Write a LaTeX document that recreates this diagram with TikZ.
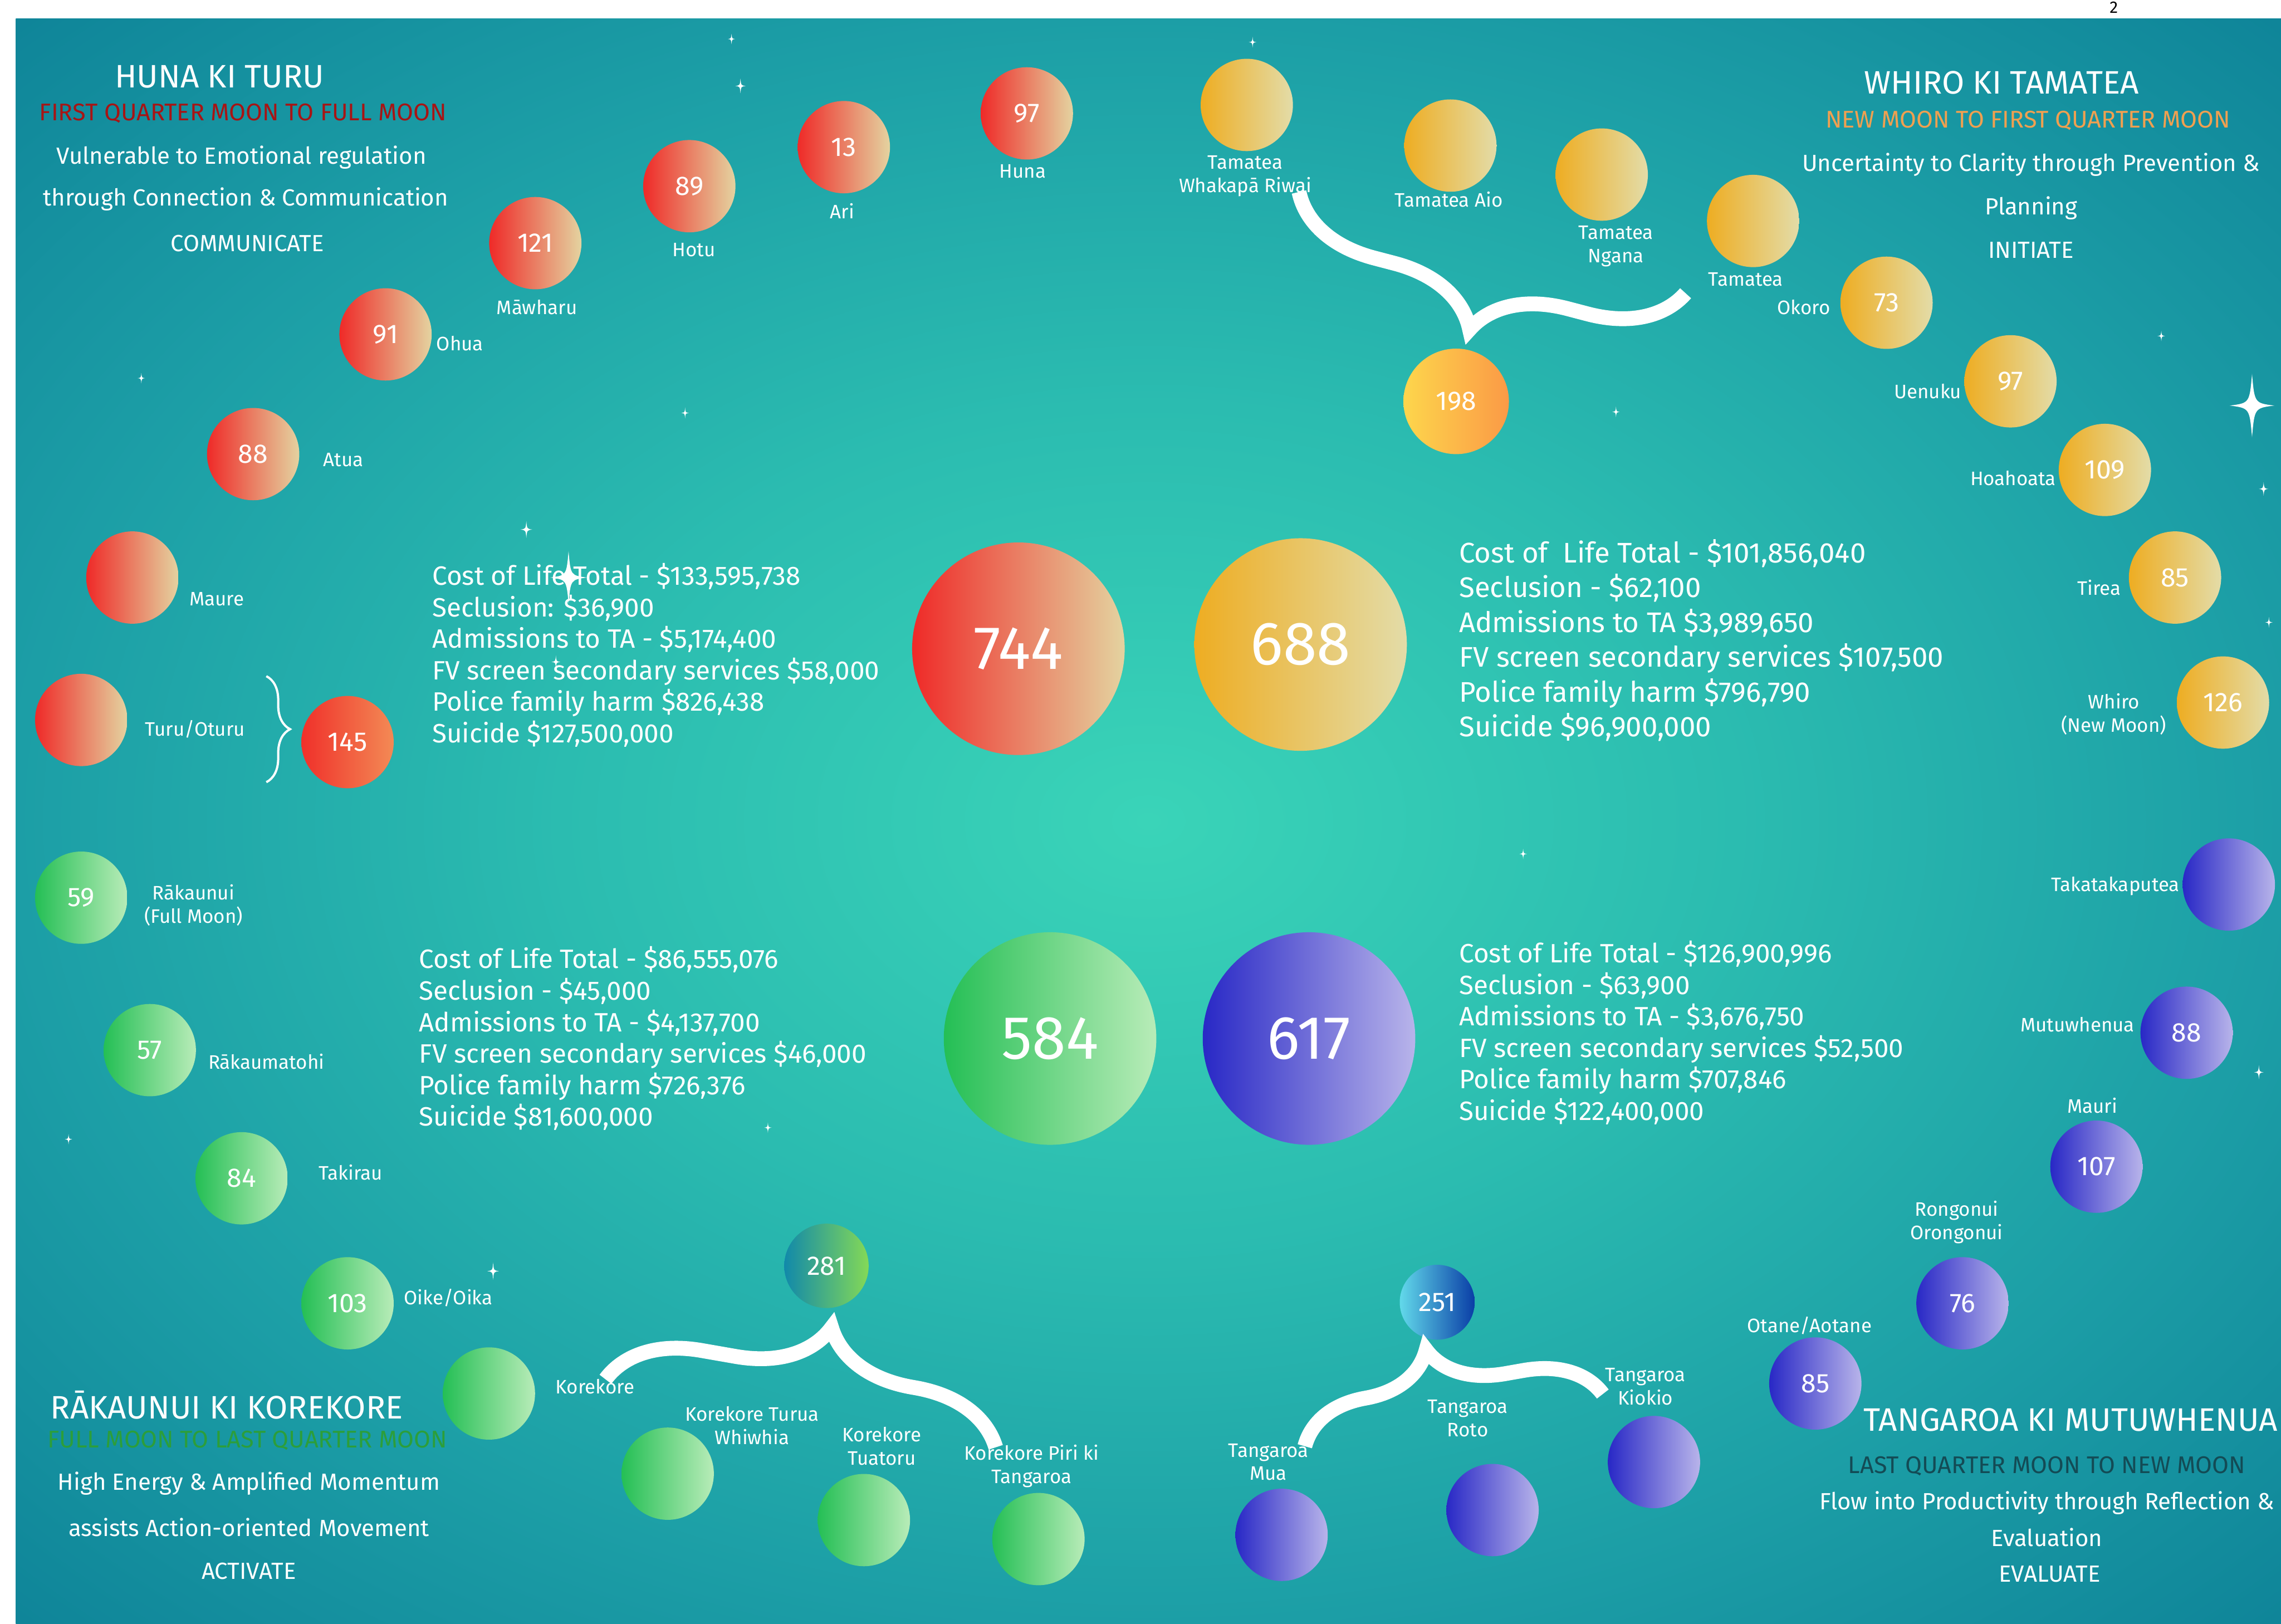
\documentclass[tikz,border=0pt]{standalone}
\usepackage{fontspec}
\setmainfont{Fira Sans}
\usetikzlibrary{decorations.pathreplacing}

\definecolor{glowC}{HTML}{3AD4B8}
\definecolor{glowM}{HTML}{2BBCB0}
\definecolor{glowE}{HTML}{1C9EA6}
\definecolor{glowF}{HTML}{0E8398}
\definecolor{redL}{HTML}{EF2A28}
\definecolor{redR}{HTML}{E4D3A0}
\definecolor{yelL}{HTML}{EEAD22}
\definecolor{yelR}{HTML}{E3DCA8}
\definecolor{grnL}{HTML}{24BF55}
\definecolor{grnR}{HTML}{B8ECB8}
\definecolor{bluL}{HTML}{2828C6}
\definecolor{bluR}{HTML}{B8B4EA}
\definecolor{sumRL}{HTML}{F0302A}
\definecolor{sumRR}{HTML}{F38A55}
\definecolor{sumYL}{HTML}{FDD64C}
\definecolor{sumYR}{HTML}{FB9A46}
\definecolor{sumGL}{HTML}{1189AA}
\definecolor{sumGR}{HTML}{84D957}
\definecolor{sumBL}{HTML}{62D9EA}
\definecolor{sumBR}{HTML}{0A3EA6}
\definecolor{huna}{HTML}{A81414}
\definecolor{whiro}{HTML}{F0A050}
\definecolor{rakau}{HTML}{2C9E3A}
\definecolor{tanga}{HTML}{134B55}

\pgfdeclareradialshading{lagoon}{\pgfpointorigin}{color(0bp)=(glowC); color(13bp)=(glowM); color(25bp)=(glowE); color(36bp)=(glowF); color(50bp)=(glowF)}

\begin{document}
\begin{tikzpicture}[
    moon/.style={circle,minimum size=1.75cm,inner sep=0pt,text=white,font=\fontsize{14.5}{16}\selectfont},
    redmoon/.style={moon,left color=redL,right color=redR},
    yelmoon/.style={moon,left color=yelL,right color=yelR},
    grnmoon/.style={moon,left color=grnL,right color=grnR},
    blumoon/.style={moon,left color=bluL,right color=bluR},
    bigmoon/.style={minimum size=4.03cm,font=\fontsize{33}{40}\selectfont},
    mlabel/.style={text=white,font=\fontsize{10.5}{12.5}\selectfont,align=center,inner sep=0pt},
    costs/.style={text=white,font=\fontsize{14.3}{17}\selectfont,align=left,anchor=west,inner sep=0pt},
    heading/.style={text=white,font=\fontsize{17.5}{20}\selectfont,inner sep=0pt},
    phase/.style={font=\fontsize{13}{15}\selectfont,inner sep=0pt},
    blurb/.style={text=white,font=\fontsize{12.6}{15}\selectfont,inner sep=0pt},
    linker/.style={white,line width=8pt,decorate},
    sparkle/.pic={\fill[white] (0,1) .. controls (0.08,0.08) .. (0.7,0) .. controls (0.08,-0.08) .. (0,-1) .. controls (-0.08,-0.08) .. (-0.7,0) .. controls (-0.08,0.08) .. (0,1) -- cycle;}]

% page and sky
\fill[white] (0,0) rectangle (43.25,30.79);
\useasboundingbox (0,0) rectangle (43.25,30.79);
\shade[shading=lagoon] (0.30,0) rectangle (43.25,30.44);
\node[font=\fontsize{9}{10}\selectfont] (pageno) at (40.08,30.65) {2};

% stars
\pic[scale=0.10] at (13.87,30.05) {sparkle};
\pic[scale=0.14] at (14.04,29.16) {sparkle};
\pic[scale=0.10] at (2.68,23.62) {sparkle};
\pic[scale=0.10] at (12.99,22.96) {sparkle};
\pic[scale=0.16] at (9.98,20.75) {sparkle};
\pic[scale=0.50] at (10.78,19.84) {sparkle};
\pic[scale=0.12] at (10.54,18.24) {sparkle};
\pic[scale=0.10] at (14.56,9.41) {sparkle};
\pic[scale=0.10] at (1.30,9.19) {sparkle};
\pic[scale=0.16] at (9.35,6.69) {sparkle};
\pic[scale=0.10] at (23.75,29.99) {sparkle};
\pic[scale=0.10] at (30.64,22.98) {sparkle};
\pic[scale=0.10] at (40.98,24.42) {sparkle};
\pic[scale=0.60] at (42.70,23.10) {sparkle};
\pic[scale=0.13] at (42.92,21.52) {sparkle};
\pic[scale=0.10] at (43.02,18.99) {sparkle};
\pic[scale=0.10] at (28.88,14.60) {sparkle};
\pic[scale=0.13] at (42.83,10.46) {sparkle};

% Huna ki Turu
\node[heading] (hunaH) at (4.16,29.33) {HUNA KI TURU};
\node[phase,text=huna] (hunaP) at (4.61,28.64) {FIRST QUARTER MOON TO FULL MOON};
\node[blurb] (hunaB1) at (4.58,27.81) {Vulnerable to Emotional regulation};
\node[blurb] (hunaB2) at (4.66,27.01) {through Connection \& Communication};
\node[blurb] (hunaB3) at (4.69,26.18) {COMMUNICATE};

\node[redmoon] (huna) at (19.47,28.64) {97};
\node[mlabel] (huna-t) at (19.39,27.54) {Huna};
\node[redmoon] (ari) at (16.00,28.00) {13};
\node[mlabel] (ari-t) at (15.97,26.79) {Ari};
\node[redmoon] (hotu) at (13.07,27.26) {89};
\node[mlabel] (hotu-t) at (13.16,26.05) {Hotu};
\node[redmoon] (mawharu) at (10.15,26.18) {121};
\node[mlabel] (mawharu-t) at (10.18,24.97) {Māwharu};
\node[redmoon] (ohua) at (7.31,24.45) {91};
\node[mlabel] (ohua-t) at (8.72,24.28) {Ohua};
\node[redmoon] (atua) at (4.80,22.18) {88};
\node[mlabel] (atua-t) at (6.51,22.07) {Atua};
\node[redmoon] (maure) at (2.51,19.84) {};
\node[mlabel] (maure-t) at (4.11,19.43) {Maure};
\node[redmoon] (turu) at (1.54,17.14) {};
\node[mlabel] (turu-t) at (3.70,16.97) {Turu/Oturu};
\node[moon,left color=sumRL,right color=sumRR] (turuSum) at (6.59,16.72) {145};
\coordinate (turuTop) at (5.05,17.97);
\coordinate (turuBot) at (5.05,15.96);
\draw[white,line width=1.2pt,decorate,decoration={brace,amplitude=0.45cm}] (turuTop) -- (turuBot);

\node[redmoon,bigmoon] (hunaAll) at (19.31,18.49) {744};
\node[costs] (hunaCost) at (8.19,18.37) {Cost of Life Total - \$133,595,738\\Seclusion: \$36,900\\Admissions to TA - \$5,174,400\\FV screen secondary services \$58,000\\Police family harm \$826,438\\Suicide \$127,500,000};

% Whiro ki Tamatea
\node[heading] (whiroH) at (37.95,29.22) {WHIRO KI TAMATEA};
\node[phase,text=whiro] (whiroP) at (38.45,28.50) {NEW MOON TO FIRST QUARTER MOON};
\node[blurb] (whiroB1) at (38.51,27.67) {Uncertainty to Clarity through Prevention \&};
\node[blurb] (whiroB2) at (38.51,26.85) {Planning};
\node[blurb] (whiroB3) at (38.51,26.05) {INITIATE};

\node[yelmoon] (whakapa) at (23.64,28.80) {};
\node[mlabel] (whakapa-t) at (23.61,27.45) {Tamatea\\Whakapā Riwai};
\node[yelmoon] (aio) at (27.50,28.03) {};
\node[mlabel] (aio-t) at (27.47,27.01) {Tamatea Aio};
\node[yelmoon] (ngana) at (30.37,27.48) {};
\node[mlabel] (ngana-t) at (30.64,26.12) {Tamatea\\Ngana};
\node[yelmoon] (tamatea) at (33.24,26.60) {};
\node[mlabel] (tamatea-t) at (33.10,25.49) {Tamatea};
\node[yelmoon] (okoro) at (35.77,25.05) {73};
\node[mlabel] (okoro-t) at (34.20,24.97) {Okoro};
\node[yelmoon] (uenuku) at (38.12,23.56) {97};
\node[mlabel] (uenuku-t) at (36.55,23.37) {Uenuku};
\node[yelmoon] (hoahoata) at (39.91,21.88) {109};
\node[mlabel] (hoahoata-t) at (38.17,21.72) {Hoahoata};
\node[yelmoon] (tirea) at (41.24,19.84) {85};
\node[mlabel] (tirea-t) at (39.80,19.65) {Tirea};
\node[yelmoon] (whiro) at (42.15,17.47) {126};
\node[mlabel] (whiro-t) at (40.08,17.25) {Whiro\\(New Moon)};
\node[moon,minimum size=2cm,left color=sumYL,right color=sumYR] (tamateaSum) at (27.61,23.18) {198};
\coordinate (yelL) at (24.63,27.15);
\coordinate (yelR) at (31.96,25.23);
\draw[linker,decoration={brace,amplitude=1.7cm,aspect=0.5}] (yelR) -- (yelL);

\node[yelmoon,bigmoon] (whiroAll) at (24.66,18.57) {688};
\node[costs,font=\fontsize{15.3}{18.8}\selectfont] (whiroCost) at (27.66,18.65) {Cost of \ Life Total - \$101,856,040\\Seclusion - \$62,100\\Admissions to TA \$3,989,650\\FV screen secondary services \$107,500\\Police family harm \$796,790\\Suicide \$96,900,000};

% Rakaunui ki Korekore
\node[heading] (rakauH) at (4.30,4.15) {RĀKAUNUI KI KOREKORE};
\node[phase,text=rakau] (rakauP) at (4.69,3.48) {FULL MOON TO LAST QUARTER MOON};
\node[blurb] (rakauB1) at (4.72,2.66) {High Energy \& Amplified Momentum};
\node[blurb] (rakauB2) at (4.72,1.83) {assists Action-oriented Movement};
\node[blurb] (rakauB3) at (4.72,1.00) {ACTIVATE};

\node[grnmoon] (rakaunui) at (1.54,13.77) {59};
\node[mlabel] (rakaunui-t) at (3.67,13.63) {Rākaunui\\(Full Moon)};
\node[grnmoon] (rakaumatohi) at (2.84,10.88) {57};
\node[mlabel] (rakaumatohi-t) at (5.05,10.66) {Rākaumatohi};
\node[grnmoon] (takirau) at (4.58,8.45) {84};
\node[mlabel] (takirau-t) at (6.65,8.56) {Takirau};
\node[grnmoon] (oike) at (6.59,6.08) {103};
\node[mlabel] (oike-t) at (8.50,6.19) {Oike/Oika};
\node[grnmoon] (korekore) at (9.27,4.37) {};
\node[mlabel] (korekore-t) at (11.28,4.50) {Korekore};
\node[grnmoon] (turua) at (12.66,2.85) {};
\node[mlabel] (turua-t) at (14.26,3.76) {Korekore Turua\\Whiwhia};
\node[grnmoon] (tuatoru) at (16.38,1.97) {};
\node[mlabel] (tuatoru-t) at (16.72,3.37) {Korekore\\Tuatoru};
\node[grnmoon] (piri) at (19.69,1.61) {};
\node[mlabel] (piri-t) at (19.56,2.99) {Korekore Piri ki\\Tangaroa};
\node[moon,minimum size=1.6cm,left color=sumGL,right color=sumGR] (korekoreSum) at (15.67,6.79) {281};
\coordinate (grnBL) at (11.48,4.64);
\coordinate (grnBR) at (18.88,3.35);
\draw[linker,decoration={brace,amplitude=1.7cm,aspect=0.54}] (grnBL) -- (grnBR);

\node[grnmoon,bigmoon] (rakauAll) at (19.91,11.10) {584};
\node[costs] (rakauCost) at (7.94,11.10) {Cost of Life Total - \$86,555,076\\Seclusion - \$45,000\\Admissions to TA - \$4,137,700\\FV screen secondary services \$46,000\\Police family harm \$726,376\\Suicide \$81,600,000};

% Tangaroa ki Mutuwhenua
\node[heading,anchor=west] (tangaH) at (35.33,3.87) {TANGAROA KI MUTUWHENUA};
\node[phase,text=tanga] (tangaP) at (38.81,2.99) {LAST QUARTER MOON TO NEW MOON};
\node[blurb] (tangaB1) at (38.81,2.30) {Flow into Productivity through Reflection \&};
\node[blurb] (tangaB2) at (38.81,1.64) {Evaluation};
\node[blurb] (tangaB3) at (38.86,0.95) {EVALUATE};

\node[blumoon] (takataka) at (42.26,14.02) {};
\node[mlabel] (takataka-t) at (40.11,13.99) {Takatakaputea};
\node[blumoon] (mutu) at (41.46,11.21) {88};
\node[mlabel] (mutu-t) at (39.39,11.37) {Mutuwhenua};
\node[blumoon] (mauri) at (39.75,8.67) {107};
\node[mlabel] (mauri-t) at (39.67,9.83) {Mauri};
\node[blumoon] (rongonui) at (37.21,6.08) {76};
\node[mlabel] (rongonui-t) at (37.10,7.62) {Rongonui\\Orongonui};
\node[blumoon] (otane) at (34.42,4.56) {85};
\node[mlabel] (otane-t) at (34.31,5.66) {Otane/Aotane};
\node[blumoon] (kiokio) at (31.36,3.07) {};
\node[mlabel] (kiokio-t) at (31.20,4.50) {Tangaroa\\Kiokio};
\node[blumoon] (roto) at (28.30,2.16) {};
\node[mlabel] (roto-t) at (27.83,3.90) {Tangaroa\\Roto};
\node[blumoon] (mua) at (24.30,1.69) {};
\node[mlabel] (mua-t) at (24.05,3.07) {Tangaroa\\Mua};
\node[moon,minimum size=1.42cm,left color=sumBL,right color=sumBR] (tangaroaSum) at (27.25,6.10) {251};
\coordinate (bluBL) at (24.74,3.37);
\coordinate (bluBR) at (30.39,4.36);
\draw[linker,decoration={brace,amplitude=1.4cm,aspect=0.45}] (bluBL) -- (bluBR);

\node[blumoon,bigmoon] (tangaAll) at (24.82,11.10) {617};
\node[costs] (tangaCost) at (27.66,11.21) {Cost of Life Total - \$126,900,996\\Seclusion - \$63,900\\Admissions to TA - \$3,676,750\\FV screen secondary services \$52,500\\Police family harm \$707,846\\Suicide \$122,400,000};
\end{tikzpicture}
\end{document}
